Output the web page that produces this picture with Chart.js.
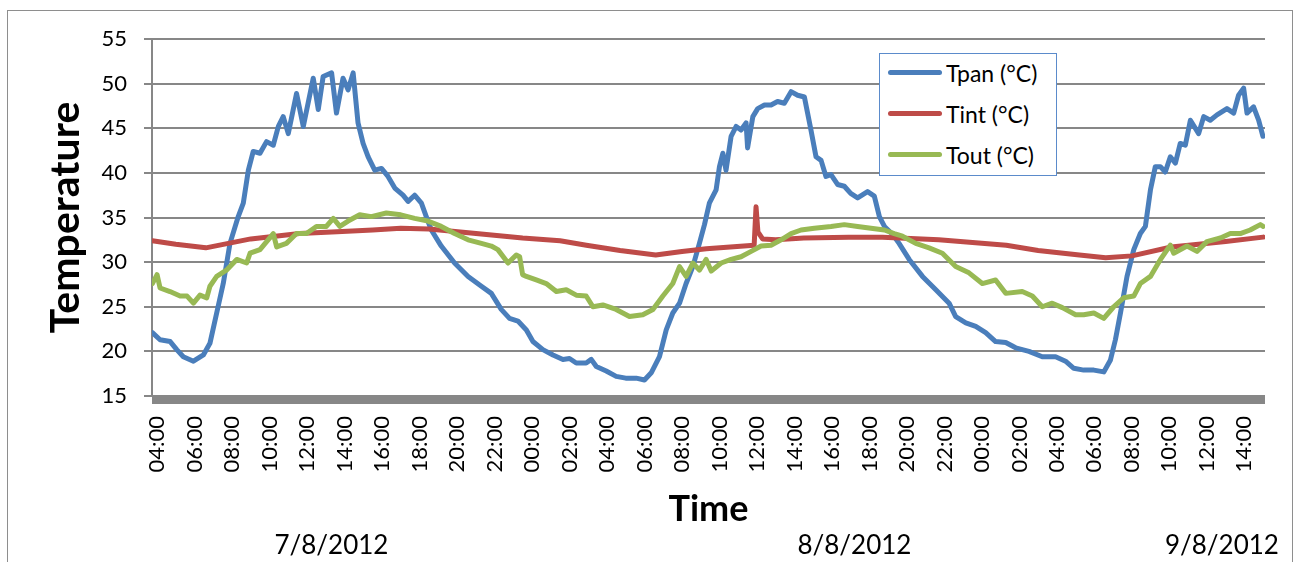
<!DOCTYPE html>
<html>
<head>
<meta charset="utf-8">
<title>Temperature</title>
<script src="https://cdn.jsdelivr.net/npm/chart.js@4.4.0/dist/chart.umd.min.js"></script>
<style>
    html, body { margin: 0; padding: 0; background: #fff; overflow: hidden; }
    #wrap { position: relative; width: 1293px; height: 562px; }
    #frame { position: absolute; left: 7px; top: 10px; width: 1286px; height: 620px; border: 1px solid #8e8e8e; box-sizing: border-box; }
    #chart { position: absolute; left: 0; top: 0; }
    #legend { position: absolute; left: 879px; top: 53px; width: 178px; height: 123px; border: 1.5px solid #5b8bcb; box-sizing: border-box; background: #fff; font-family: Lato, 'Liberation Sans', sans-serif; font-size: 23px; color: #000; }
    #legend .item { position: absolute; left: 8px; height: 30px; display: flex; align-items: center; white-space: nowrap; }
    #legend .swatch { width: 54px; height: 5px; border-radius: 3px; margin-right: 4px; }
</style>
</head>
<body>
<div id="wrap">
    <div id="frame"></div>
    <canvas id="chart" width="1293" height="562"></canvas>
    <div id="legend"></div>
</div>
<script>
// Eje X en horas desde las 04:00 del 7/8/2012
const tickLabels = ['04:00', '06:00', '08:00', '10:00', '12:00', '14:00', '16:00', '18:00', '20:00', '22:00',
    '00:00', '02:00', '04:00', '06:00', '08:00', '10:00', '12:00', '14:00', '16:00', '18:00', '20:00', '22:00',
    '00:00', '02:00', '04:00', '06:00', '08:00', '10:00', '12:00', '14:00'];
const dateLabels = ['7/8/2012', '8/8/2012', '9/8/2012'];
const dateLabelHours = [9.3, 37.2, 56.8];

// Tpan (°C)
const tpanHours = [-0.25, 0.16, 0.7, 1.05, 1.4, 1.94, 2.47, 2.82, 3.18, 3.53, 3.89, 4.33, 4.6, 4.87, 5.13, 5.49,
    5.84, 6.2, 6.47, 6.73, 7.0, 7.44, 7.8, 8.33, 8.6, 8.86, 9.31, 9.57, 9.92, 10.19, 10.46, 10.72, 10.99,
    11.26, 11.61, 11.97, 12.32, 12.68, 13.12, 13.39, 13.74, 14.1, 14.36, 14.63, 15.16, 15.87, 16.59, 17.3,
    17.83, 18.36, 18.8, 19.25, 19.7, 20.05, 20.58, 21.12, 21.65, 22.0, 22.36, 22.89, 23.16, 23.43, 23.96,
    24.49, 25.0, 25.56, 26.0, 26.36, 26.8, 27.16, 27.51, 27.87, 28.22, 28.58, 28.93, 29.2, 29.46, 29.82,
    30.0, 30.18, 30.35, 30.62, 30.89, 31.15, 31.42, 31.5, 31.78, 32.04, 32.4, 32.75, 33.1, 33.46, 33.82,
    34.17, 34.53, 34.7, 34.88, 35.15, 35.42, 35.68, 35.95, 36.3, 36.66, 37.0, 37.37, 37.9, 38.26, 38.53,
    38.8, 39.24, 39.58, 40.12, 40.83, 41.54, 42.25, 42.6, 43.14, 43.67, 44.2, 44.73, 45.27, 45.8, 46.51,
    47.22, 47.93, 48.46, 48.9, 49.43, 49.97, 50.5, 50.85, 51.12, 51.39, 51.74, 52.1, 52.45, 52.72, 52.99,
    53.25, 53.52, 53.78, 54.05, 54.32, 54.58, 54.85, 55.12, 55.56, 55.83, 56.18, 56.54, 57.07, 57.43,
    57.69, 57.96, 58.14, 58.49, 58.76, 58.99];
const tpanValues = [22.1, 21.3, 21.1, 20.2, 19.4, 18.9, 19.6, 20.9, 24.3, 27.6, 32.1, 35.1, 36.6, 40.3, 42.4, 42.2,
    43.5, 43.1, 45.2, 46.3, 44.4, 48.9, 45.2, 50.6, 47.1, 50.8, 51.2, 46.7, 50.6, 49.3, 51.2, 45.6, 43.3,
    41.8, 40.3, 40.5, 39.6, 38.3, 37.5, 36.8, 37.5, 36.6, 35.1, 33.6, 31.8, 29.9, 28.4, 27.3,
    26.5, 24.7, 23.7, 23.4, 22.4, 21.1, 20.2, 19.6, 19.1, 19.2, 18.7, 18.7, 19.1, 18.3, 17.8,
    17.2, 17.0, 17.0, 16.8, 17.6, 19.4, 22.4, 24.3, 25.4, 27.6, 29.5, 32.1, 34.2, 36.6, 38.1,
    40.7, 42.2, 40.3, 44.1, 45.2, 44.8, 45.6, 42.8, 46.3, 47.2, 47.6, 47.6, 48.0, 47.8, 49.1,
    48.7, 48.5, 46.7, 44.8, 41.8, 41.4, 39.6, 39.8, 38.7, 38.5, 37.7, 37.2, 37.9, 37.4, 35.1,
    34.0, 33.1, 32.1, 30.3, 28.4, 26.9, 25.4, 23.9, 23.2, 22.8, 22.1, 21.1, 21.0, 20.4, 20.0,
    19.4, 19.4, 18.9, 18.1, 17.9, 17.9, 17.7, 19.0, 21.3, 24.3, 28.4, 31.4, 33.2, 34.0, 38.1,
    40.7, 40.7, 40.1, 41.8, 41.1, 43.3, 43.1, 45.9, 44.4, 46.3, 45.9, 46.5, 47.2, 46.7,
    48.7, 49.5, 46.7, 47.4, 45.9, 44.1];

// Tint (°C)
const tintHours = [-0.25, 1.0, 2.6, 3.8, 5.0, 7.6, 9.6, 11.5, 13.0, 14.5, 16.6, 19.5, 21.5, 22.9, 24.7, 26.6,
    28.0, 29.3, 31.85, 31.95, 32.05, 32.3, 33.0, 34.5, 36.9, 38.7, 41.7, 45.3, 47.0, 49.2, 50.6, 52.0,
    54.1, 57.0, 59.0];
const tintValues = [32.4, 32.0, 31.6, 32.1, 32.6, 33.2, 33.4, 33.6, 33.8, 33.7, 33.3, 32.7, 32.4, 31.9, 31.3, 30.8,
    31.2, 31.5, 31.9, 36.2, 33.4, 32.6, 32.5, 32.7, 32.8, 32.8, 32.5, 31.9, 31.3, 30.8, 30.5, 30.7,
    31.7, 32.3, 32.8];

// Tout (°C)
const toutHours = [-0.25, 0.0, 0.16, 0.69, 1.23, 1.6, 1.94, 2.29, 2.65, 2.82, 3.18, 3.7, 4.25, 4.78, 4.96, 5.49,
    6.2, 6.38, 6.9, 7.44, 7.97, 8.5, 9.03, 9.4, 9.75, 10.19, 10.81, 11.43, 12.23, 13.0, 13.74, 14.45,
    15.16, 15.87, 16.59, 17.3, 17.83, 18.18, 18.72, 19.16, 19.34, 19.5, 19.7, 20.23, 20.76, 21.3, 21.83,
    22.36, 22.89, 23.25, 23.78, 24.49, 25.2, 25.91, 26.45, 26.98, 27.51, 27.87, 28.22, 28.58, 28.93,
    29.29, 29.56, 30.09, 30.62, 31.15, 31.69, 32.22, 32.75, 33.29, 33.82, 34.35, 35.06, 35.95, 36.66,
    37.37, 38.08, 38.8, 39.32, 39.76, 40.47, 41.18, 41.89, 42.6, 43.31, 44.02, 44.73, 45.27, 46.15,
    46.69, 47.22, 47.75, 48.29, 49.0, 49.43, 49.97, 50.5, 51.03, 51.56, 52.1, 52.45, 52.99, 53.52,
    54.05, 54.23, 54.94, 55.47, 56.0, 56.72, 57.25, 57.78, 58.31, 58.85, 59.0];
const toutValues = [27.6, 28.6, 27.1, 26.7, 26.2, 26.2, 25.4, 26.3, 26.0, 27.3, 28.4, 29.1, 30.3, 29.9, 31.0, 31.4,
    33.2, 31.7, 32.1, 33.2, 33.2, 34.0, 34.0, 34.9, 34.0, 34.6, 35.3, 35.1, 35.5, 35.3, 34.9, 34.6,
    34.0, 33.2, 32.5, 32.1, 31.8, 31.4, 29.9, 30.8, 30.6, 28.6, 28.4, 28.0, 27.6, 26.7, 26.9,
    26.3, 26.2, 25.0, 25.2, 24.7, 23.9, 24.1, 24.7, 26.2, 27.6, 29.5, 28.4, 29.9, 29.1,
    30.3, 29.0, 29.9, 30.3, 30.6, 31.2, 31.8, 31.9, 32.5, 33.2, 33.6, 33.8, 34.0, 34.2,
    34.0, 33.8, 33.6, 33.2, 32.9, 32.1, 31.6, 31.0, 29.5, 28.8, 27.6, 28.0, 26.5, 26.7,
    26.2, 25.0, 25.4, 24.9, 24.1, 24.1, 24.3, 23.7, 25.0, 26.0, 26.2, 27.6, 28.4, 30.3,
    31.9, 31.0, 31.8, 31.2, 32.3, 32.7, 33.2, 33.2, 33.6, 34.2, 34.0];

const FONT = "Lato, 'Liberation Sans', sans-serif";
const GRID = '#878787';

function toPoints(hours, values) {
    return hours.map((h, i) => ({ x: h, y: values[i] }));
}

// Línea gruesa del eje horizontal (como en Excel)
const axisBand = {
    id: 'axisBand',
    beforeDatasetsDraw(chart) {
        const { ctx, chartArea } = chart;
        ctx.save();
        ctx.fillStyle = GRID;
        ctx.fillRect(chartArea.left, chartArea.bottom, chartArea.right - chartArea.left, 8);
        ctx.restore();
    }
};

const ctx = document.getElementById('chart').getContext('2d');
const chart = new Chart(ctx, {
    type: 'line',
    data: {
        datasets: [{
            label: 'Tpan (°C)',
            data: toPoints(tpanHours, tpanValues),
            borderColor: '#4a7ebb',
            order: 3
        }, {
            label: 'Tint (°C)',
            data: toPoints(tintHours, tintValues),
            borderColor: '#be4b48',
            order: 2
        }, {
            label: 'Tout (°C)',
            data: toPoints(toutHours, toutValues),
            borderColor: '#98b954',
            order: 1
        }]
    },
    options: {
        responsive: false,
        animation: false,
        devicePixelRatio: 1,
        layout: {
            padding: { left: 0, right: 28, top: 39, bottom: 0 }
        },
        elements: {
            point: { radius: 0 },
            line: { borderWidth: 5, tension: 0, borderCapStyle: 'round', borderJoinStyle: 'round', fill: false }
        },
        plugins: {
            legend: { display: false },
            tooltip: { enabled: false }
        },
        scales: {
            x: {
                type: 'linear',
                position: 'bottom',
                min: -0.27,
                max: 59.1,
                afterBuildTicks: (scale) => {
                    scale.ticks = tickLabels.map((_, i) => ({ value: i * 2 }));
                },
                afterFit: (scale) => { scale.height = 136.5; },
                grid: { display: false, drawTicks: false },
                border: { display: false },
                ticks: {
                    autoSkip: false,
                    minRotation: 90,
                    maxRotation: 90,
                    padding: 20,
                    color: '#000',
                    font: { family: FONT, size: 22 },
                    callback: (value, index) => tickLabels[index]
                },
                title: {
                    display: true,
                    text: 'Time',
                    color: '#000',
                    padding: { top: 0, bottom: 1.4 },
                    font: { family: FONT, size: 36, weight: 'bold' }
                }
            },
            x2: {
                type: 'linear',
                position: 'bottom',
                min: -0.27,
                max: 59.1,
                afterBuildTicks: (scale) => {
                    scale.ticks = dateLabelHours.map(v => ({ value: v }));
                },
                afterFit: (scale) => { scale.height = 29.5; },
                grid: { display: false, drawTicks: false },
                border: { display: false },
                ticks: {
                    autoSkip: false,
                    maxRotation: 0,
                    padding: 0,
                    color: '#000',
                    font: { family: FONT, size: 26, lineHeight: 1 },
                    callback: (value, index) => dateLabels[index]
                }
            },
            y: {
                min: 15,
                max: 55,
                afterFit: (scale) => { scale.width = 152; },
                grid: { color: GRID, lineWidth: 2, tickLength: 8 },
                border: { color: GRID, width: 2 },
                ticks: {
                    stepSize: 5,
                    padding: 17,
                    color: '#000',
                    font: { family: FONT, size: 22 }
                },
                title: {
                    display: true,
                    text: 'Temperature',
                    color: '#000',
                    padding: { top: 41, bottom: 0 },
                    font: { family: FONT, size: 41, weight: 'bold' }
                }
            }
        }
    },
    plugins: [axisBand]
});

// Leyenda en HTML (posición fija dentro del área del gráfico)
const legendEl = document.getElementById('legend');
chart.data.datasets.forEach((ds, i) => {
    const item = document.createElement('div');
    item.className = 'item';
    item.style.top = (3.5 + i * 41) + 'px';
    const swatch = document.createElement('span');
    swatch.className = 'swatch';
    swatch.style.background = ds.borderColor;
    const text = document.createElement('span');
    text.textContent = ds.label;
    item.appendChild(swatch);
    item.appendChild(text);
    legendEl.appendChild(item);
});
</script>
</body>
</html>
